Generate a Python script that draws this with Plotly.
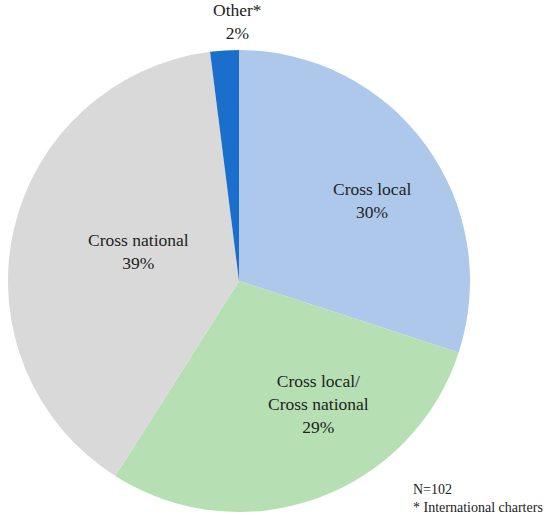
import plotly.graph_objects as go

# slice data (clockwise from 12 o'clock)
labels = ["Cross local", "Cross local/<br>Cross national", "Cross national", "Other*"]
shares = [30, 29, 39, 2]
colors = ["#adc8ea", "#b6e0b3", "#d9d9d9", "#1b6fcc"]

# where each label sits (screen pixels in the reference)
label_x = [372, 318, 138, 237]
label_y = [201, 404, 251, 22]

W, H = 550, 520


def px(x):
    return x / W


def py(y):
    return 1 - y / H


fig = go.Figure()

fig.add_trace(go.Pie(
    labels=labels,
    values=shares,
    sort=False,
    direction="clockwise",
    rotation=0,
    marker=dict(colors=colors, line=dict(width=0)),
    textinfo="none",
    domain=dict(x=[px(8), px(470)], y=[py(512), py(50)]),
    showlegend=False,
    hoverinfo="label+value",
))

# slice labels
for lab, val, x, y in zip(labels, shares, label_x, label_y):
    fig.add_annotation(
        text=f"{lab}<br>{val}%",
        xref="paper", yref="paper", x=px(x), y=py(y),
        xanchor="center", yanchor="middle", align="center", showarrow=False,
        font=dict(family="Liberation Serif", size=17.5, color="#222222"),
    )

fig.add_annotation(
    text="N=102<br>* International charters",
    xref="paper", yref="paper", x=px(411), y=py(517),
    xanchor="left", yanchor="bottom", align="left", showarrow=False,
    font=dict(family="Liberation Serif", size=14, color="#222222"),
)

fig.update_layout(
    width=W, height=H,
    margin=dict(l=0, r=0, t=0, b=0),
    paper_bgcolor="white",
    plot_bgcolor="white",
)

# drop the default page margin so the figure sits at the window's corner
fig.write_html(
    "out.html",
    config={"displayModeBar": False},
    post_script="document.body.style.margin='0';",
)
